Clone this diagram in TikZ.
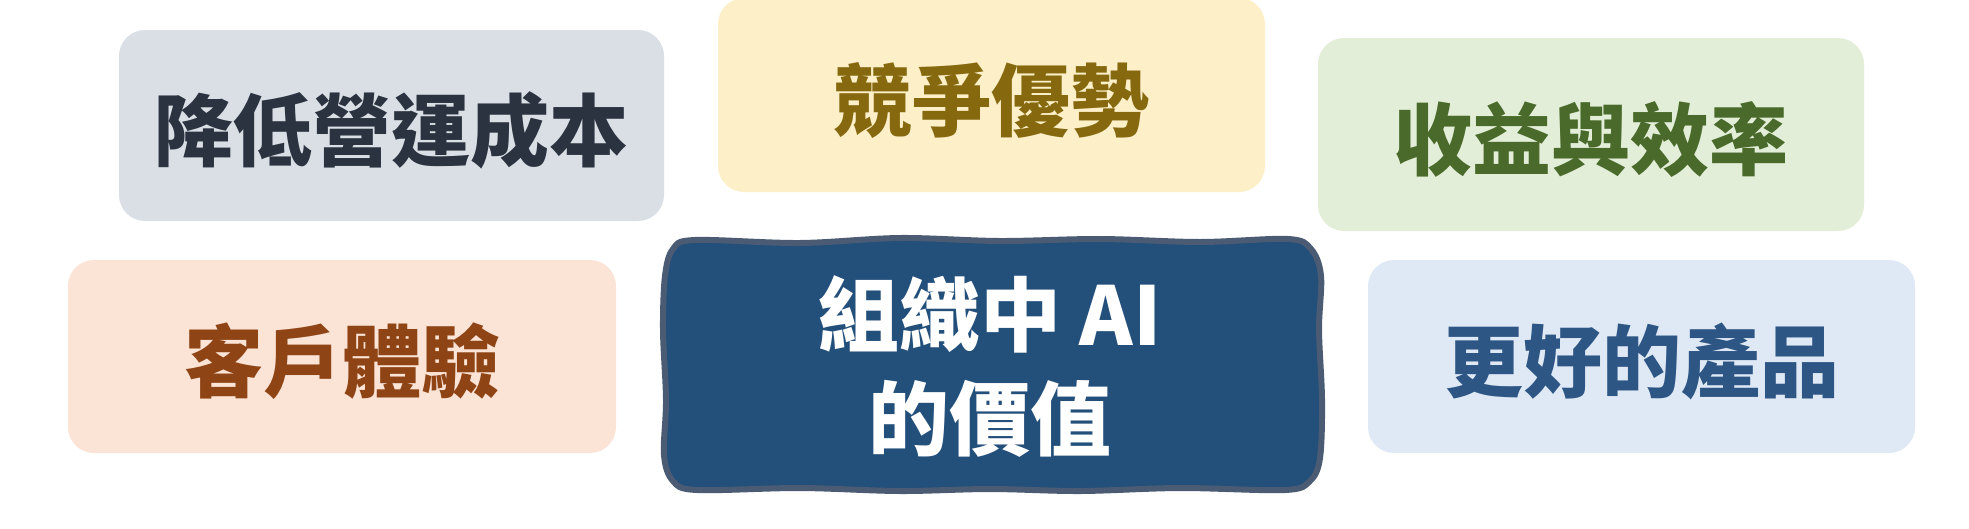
\documentclass[tikz,border=0pt]{standalone}
\usepackage{fontspec}
\newfontfamily\cjk{Noto Sans CJK TC}
\definecolor{fillA}{HTML}{DADFE6}
\definecolor{textA}{HTML}{2B3340}
\definecolor{fillB}{HTML}{FDF0C9}
\definecolor{textB}{HTML}{86690F}
\definecolor{fillC}{HTML}{E3EED8}
\definecolor{textC}{HTML}{496A2A}
\definecolor{fillD}{HTML}{FBE3D5}
\definecolor{textD}{HTML}{8F4416}
\definecolor{fillE}{HTML}{DFE9F5}
\definecolor{textE}{HTML}{2E5685}
\definecolor{coreFill}{HTML}{234F7B}
\definecolor{coreLine}{HTML}{4A5B73}
\tikzset{
  tile/.style={rounded corners=26pt, inner sep=0pt, align=center,
    font=\cjk\bfseries\fontsize{79pt}{90pt}\selectfont,
    text height=80pt, text depth=9.5pt},
  coretext/.style={inner sep=0pt, align=center, text=white,
    font=\cjk\bfseries\fontsize{81pt}{104pt}\selectfont},
  coreborder/.style={draw=coreLine, line width=6pt, fill=coreFill, line join=round}
}
\begin{document}
\begin{tikzpicture}[x=1pt,y=-1pt]
\useasboundingbox (0,0) rectangle (1969,528);
\fill[white] (0,0) rectangle (1969,528);
\node[tile, fill=fillA, text=textA, minimum width=545pt, minimum height=191pt] (cost) at (391.5,125.5) {降低營運成本};
\node[tile, fill=fillB, text=textB, minimum width=547pt, minimum height=194pt] (edge) at (991.5,95) {競爭優勢};
\node[tile, fill=fillC, text=textC, minimum width=546pt, minimum height=193pt] (gain) at (1591,134.5) {收益與效率};
\node[tile, fill=fillD, text=textD, minimum width=548pt, minimum height=193pt] (cx) at (342,356.5) {客戶體驗};
\node[tile, fill=fillE, text=textE, minimum width=547pt, minimum height=193pt] (prod) at (1641.5,356.5) {更好的產品};
\draw[coreborder] plot[smooth cycle, tension=0.55] coordinates {
 (695,240) (800,243) (900,238) (1000,241) (1100,239) (1200,242) (1288,239)
 (1311,249) (1321,276) (1319,330) (1322,400) (1320,458)
 (1310,481) (1285,490) (1180,488) (1080,491) (990,489) (900,491) (800,488) (697,490)
 (673,481) (664,455) (666,400) (663,330) (665,276) (673,249)};
\node[coretext] (core) at (990,367) {組織中 AI\\的價值};
\end{tikzpicture}
\end{document}
